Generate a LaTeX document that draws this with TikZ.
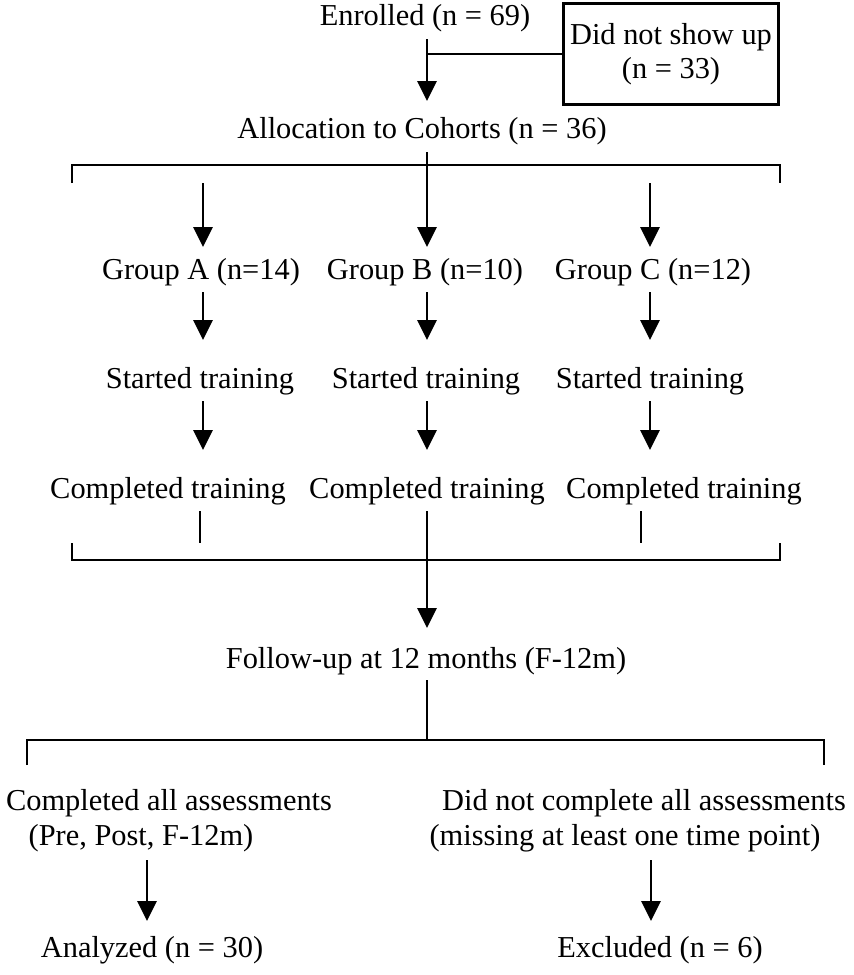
\documentclass[tikz,border=0pt]{standalone}
\usepackage{fontspec}
\setmainfont{Liberation Serif}
\usetikzlibrary{arrows.meta}

\begin{document}
\begin{tikzpicture}[x=0.5pt, y=-0.5pt, line width=1.4pt,
    txt/.style={font=\fontsize{15.2}{18}\selectfont, inner sep=0pt},
    box/.style={draw, line width=1.4pt, minimum width=106pt, minimum height=50.5pt,
        align=center, font=\fontsize{15.2}{17}\selectfont},
    arr/.style={-{Triangle[width=9.5pt,length=10pt]}}]
    \useasboundingbox (0,0) rectangle (854,975);

    % Enrollment
    \node[txt] (enrolled) at (425,18) {Enrolled (n = 69)};
    \node[box] (noshow) at (671,54) {Did not show up\\(n = 33)};
    \node[txt] (alloc) at (422,131) {Allocation to Cohorts (n = 36)};
    \coordinate (t1) at (427,39);
    \coordinate (t2) at (427,101);
    \draw[arr] (t1) -- (t2);
    \draw (noshow.west) -- (noshow.west -| t1);

    % Split into cohorts
    \coordinate (s1) at (427,152);
    \coordinate (s2) at (427,183);
    \coordinate (bl1) at (72,183);
    \coordinate (br1) at (780,183);
    \draw (s1) -- (s2);
    \draw (bl1) -- (72,165) -- (780,165) -- (br1);

    % Groups
    \node[txt] (grpA) at (201,272) {Group A (n=14)};
    \node[txt] (grpB) at (425,272) {Group B (n=10)};
    \node[txt] (grpC) at (653,272) {Group C (n=12)};
    \node[txt] (startA) at (200,381) {Started training};
    \node[txt] (startB) at (426,381) {Started training};
    \node[txt] (startC) at (650,381) {Started training};
    \node[txt] (compA) at (168,491) {Completed training};
    \node[txt] (compB) at (427,491) {Completed training};
    \node[txt] (compC) at (684,491) {Completed training};

    \foreach \x in {203,427,650} {
        \draw[arr] (\x,183) -- (\x,247);
        \draw[arr] (\x,292) -- (\x,340);
        \draw[arr] (\x,401) -- (\x,450);
    }

    % Merge after training
    \draw (200,511) -- (200,543);
    \draw (641,511) -- (641,543);
    \draw (72,543) -- (72,560) -- (780,560) -- (780,543);
    \node[txt] (follow) at (426,661) {Follow-up at 12 months (F-12m)};
    \coordinate (m1) at (427,511);
    \draw[arr] (m1) -- (m1 |- 0,628);

    % Assessments
    \coordinate (f1) at (427,680);
    \draw (f1) -- (427,740);
    \draw (27,765) -- (27,740) -- (824,740) -- (824,765);
    \node[txt] (allA) at (169,803) {Completed all assessments};
    \node[txt] (allB) at (141,838) {(Pre, Post, F-12m)};
    \node[txt] (notA) at (644,803) {Did not complete all assessments};
    \node[txt] (notB) at (625,838) {(missing at least one time point)};
    \node[txt] (analyzed) at (152,950) {Analyzed (n = 30)};
    \node[txt] (excluded) at (660,950) {Excluded (n = 6)};
    \draw[arr] (147,860) -- (147,921);
    \draw[arr] (651,860) -- (651,921);
\end{tikzpicture}
\end{document}
